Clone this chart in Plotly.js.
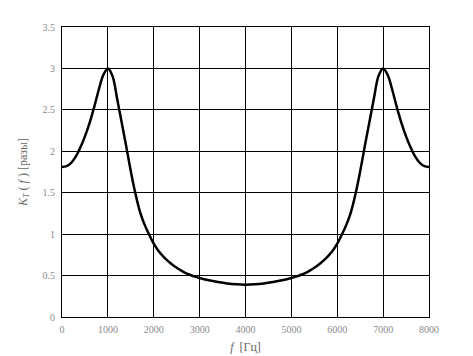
<!DOCTYPE html>
<html>
<head>
<meta charset="utf-8">
<script src="https://cdn.plot.ly/plotly-3.0.1.min.js"></script>
<style>html,body{margin:0;padding:0;background:#fff;}#chart{width:473px;height:356px;}</style>
</head>
<body>
<div id="chart"></div>
<script>
const freq = [0, 100, 200, 300, 400, 500, 600, 700, 800, 900, 1000, 1100, 1200, 1300, 1400, 1500, 1600, 1700, 1800, 1900, 2000, 2100, 2200, 2300, 2400, 2500, 2600, 2700, 2800, 2900, 3000, 3200, 3400, 3600, 3800, 4000,
  4200, 4400, 4600, 4800, 5000, 5100, 5200, 5300, 5400, 5500, 5600, 5700, 5800, 5900, 6000, 6100, 6200, 6300, 6400, 6500, 6600, 6700, 6800, 6900, 7000, 7100, 7200, 7300, 7400, 7500, 7600, 7700, 7800, 7900, 8000];
const kt = [1.81, 1.82, 1.86, 1.935, 2.045, 2.18, 2.34, 2.53, 2.74, 2.92, 3.00, 2.91, 2.64, 2.35, 2.06, 1.76, 1.49, 1.27, 1.115, 0.995, 0.885, 0.80, 0.735, 0.68, 0.635, 0.595, 0.56, 0.53, 0.507, 0.487, 0.47, 0.443, 0.422, 0.405, 0.394, 0.39,
  0.394, 0.405, 0.422, 0.443, 0.47, 0.487, 0.507, 0.53, 0.56, 0.595, 0.635, 0.68, 0.735, 0.80, 0.885, 0.995, 1.115, 1.27, 1.49, 1.76, 2.06, 2.35, 2.64, 2.91, 3.00, 2.92, 2.74, 2.53, 2.34, 2.18, 2.045, 1.935, 1.86, 1.82, 1.81];
const xTicks = [0, 1000, 2000, 3000, 4000, 5000, 6000, 7000, 8000];
const yTicks = [0, 0.5, 1, 1.5, 2, 2.5, 3, 3.5];

const tickFont = {family: 'Liberation Serif, serif', size: 10, color: '#8a8a8a'};
const titleFont = {family: 'Liberation Serif, serif', size: 12, color: '#666'};

Plotly.newPlot('chart', [{
  x: freq, y: kt, mode: 'lines', type: 'scatter',
  line: {color: '#000', width: 2.5, shape: 'spline', smoothing: 1}
}], {
  width: 473, height: 356,
  margin: {l: 62, r: 44, t: 27, b: 39},
  paper_bgcolor: '#fff', plot_bgcolor: '#fff',
  showlegend: false,
  xaxis: {
    range: [0, 8000], tickvals: xTicks, ticktext: xTicks.map(String),
    showgrid: true, gridcolor: '#000', gridwidth: 1, zeroline: false,
    showline: true, linecolor: '#000', linewidth: 1, mirror: true,
    ticks: '', tickfont: tickFont, ticklabelstandoff: 3,
    title: {text: '<i>f</i>  [Гц]', font: titleFont, standoff: 8}
  },
  yaxis: {
    range: [0, 3.5], tickvals: yTicks, ticktext: yTicks.map(String),
    showgrid: true, gridcolor: '#000', gridwidth: 1, zeroline: false,
    showline: true, linecolor: '#000', linewidth: 1, mirror: true,
    ticks: '', tickfont: tickFont, ticklabelstandoff: 4,
    title: {text: '<i>K</i><sub><i>T</i></sub> ( <i>f</i> ) [разы]', font: titleFont, standoff: 12}
  }
}, {displayModeBar: false, staticPlot: true});
</script>
</body>
</html>
